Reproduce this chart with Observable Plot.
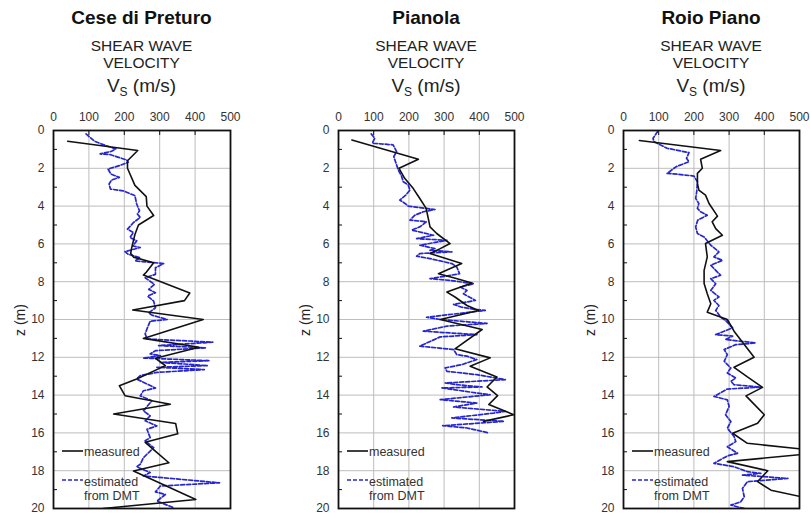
<!DOCTYPE html>
<html>
<head>
<meta charset="utf-8">
<script src="https://cdn.jsdelivr.net/npm/d3@7"></script>
<script src="https://cdn.jsdelivr.net/npm/@observablehq/plot@0.6"></script>
<style>
  html, body { margin:0; padding:0; background:#fff; }
  body { width:810px; height:513px; position:relative; overflow:hidden; font-family:"Liberation Sans", Arial, sans-serif; color:#111; }
  .abs { position:absolute; white-space:nowrap; transform:translate(-50%,-50%); }
  .title { font-weight:bold; font-size:19px; }
  .sub { font-size:15.5px; color:#222; }
  .vs { font-size:19px; color:#222; }
  .vs sub { font-size:12px; vertical-align:-4px; }
  .zl { font-size:14px; transform:translate(-50%,-50%) rotate(-90deg); color:#222; }
  .panel { position:absolute; top:95px; }
  .legend { position:absolute; }
</style>
</head>
<body>
<script>
// ---- data: [depth z (m), Vs (m/s)] ----
const panelNames = ["Cese di Preturo", "Pianola", "Roio Piano"];
const xTicks = [0, 100, 200, 300, 400, 500];
const yTicks = [0, 2, 4, 6, 8, 10, 12, 14, 16, 18, 20];
const yMinor = [1, 3, 5, 7, 9, 11, 13, 15, 17, 19];
const legendLabels = ["measured", "estimated", "from DMT"];

const ceseMeasured = [[0.57,40],[1.06,238],[1.6,209],[2.0,209],[2.9,230],[3.5,262],[4.0,264],[4.5,283],[5.0,240],[5.5,230],[6.2,221],[6.5,218],[6.7,226],[7.0,283],[7.5,262],[7.65,254],[8.6,385],[9.0,370],[9.5,224],[10.0,423],[11.0,254],[11.47,411],[12.05,288],[12.44,316],[13.15,235],[13.5,186],[14.03,202],[14.48,330],[15.0,170],[15.5,345],[16.05,351],[16.5,259],[17.0,290],[17.58,326],[18.02,226],[19.52,402],[20.0,140]];
const ceseDMT = [[0.18,92],[0.57,116],[0.8,148],[0.97,176],[1.1,164],[1.24,132],[1.27,159],[1.56,207],[1.68,211],[1.86,186],[2.04,154],[2.3,162],[2.48,186],[2.62,164],[2.83,157],[3.1,161],[3.19,197],[3.45,230],[3.89,235],[4.25,243],[4.42,237],[4.6,245],[4.87,226],[5.22,209],[5.4,226],[5.66,216],[5.84,235],[6.11,224],[6.19,245],[6.41,202],[6.55,211],[6.73,245],[6.9,230],[7.04,311],[7.26,288],[7.61,288],[7.79,259],[8.14,285],[8.41,269],[8.58,288],[8.76,266],[9.03,283],[9.38,288],[9.65,269],[9.77,278],[10.0,321],[10.09,273],[10.5,264],[10.76,259],[11.03,264],[11.2,450],[11.38,297],[11.5,430],[11.65,288],[11.82,273],[11.91,302],[12.04,254],[12.18,440],[12.27,302],[12.44,435],[12.53,292],[12.65,426],[12.8,292],[12.97,245],[13.15,235],[13.63,288],[13.77,254],[14.04,245],[14.3,278],[14.83,254],[15.1,273],[15.36,259],[15.63,292],[15.81,264],[16.25,273],[16.42,259],[16.78,283],[17.31,254],[17.66,245],[17.79,235],[18.1,273],[18.28,254],[18.64,469],[18.81,302],[19.12,288],[19.26,316],[19.61,292],[19.96,340]];

const pianolaMeasured = [[0.5,38],[1.52,227],[2.0,172],[2.53,188],[3.06,212],[3.6,231],[4.12,249],[4.65,255],[5.1,260],[5.45,279],[5.98,317],[6.25,289],[6.51,260],[7.04,350],[7.58,284],[7.79,327],[8.07,379],[8.55,308],[8.81,331],[9.26,365],[9.52,398],[10.0,289],[10.53,408],[11.55,331],[12.03,431],[12.47,374],[13.04,450],[13.57,422],[14.03,452],[14.5,427],[15.04,498],[15.39,412]];
const pianolaDMT = [[0.18,93],[0.41,103],[0.67,96],[0.76,155],[1.12,165],[1.38,157],[2.09,170],[2.41,179],[2.71,184],[2.88,198],[3.15,203],[3.42,191],[3.68,174],[3.86,189],[4.0,198],[4.18,274],[4.3,241],[4.48,217],[4.74,203],[4.83,250],[5.1,231],[5.27,208],[5.54,270],[5.72,222],[5.81,308],[6.07,231],[6.25,274],[6.34,260],[6.42,322],[6.51,231],[6.65,222],[6.78,260],[7.04,322],[7.22,336],[7.58,344],[7.84,260],[7.93,317],[8.11,384],[8.28,346],[8.46,365],[8.64,355],[8.99,389],[9.2,327],[9.35,350],[9.47,389],[9.52,417],[9.88,250],[10.0,289],[10.21,422],[10.35,308],[10.62,241],[10.8,393],[10.92,289],[11.41,231],[11.59,327],[11.86,336],[11.94,365],[12.12,393],[12.39,350],[12.56,303],[12.74,308],[12.92,393],[13.18,474],[13.36,303],[13.45,336],[13.57,408],[13.62,294],[13.89,393],[13.98,431],[14.24,289],[14.42,393],[14.63,327],[14.86,474],[14.95,441],[15.21,322],[15.39,470],[15.62,296],[15.74,365],[16.0,427]];

const roioMeasured = [[0.53,45],[1.06,276],[1.52,219],[2.0,224],[2.27,210],[2.8,210],[3.15,214],[3.42,233],[3.86,243],[4.53,267],[4.83,252],[5.19,262],[5.54,281],[5.98,233],[6.69,238],[7.4,229],[8.1,229],[8.64,238],[9.17,248],[9.61,238],[10.0,295],[10.62,314],[12.0,371],[12.53,314],[13.04,352],[13.59,395],[14.04,348],[15.04,400],[15.49,381],[16.02,310],[16.55,352],[16.9,530],[17.1,530],[17.52,295],[18.0,410],[18.58,381],[19.03,419],[19.38,505],[19.6,560]];
const roioDMT = [[0.05,97],[0.41,84],[0.58,86],[0.94,124],[1.17,186],[1.47,179],[1.65,186],[1.91,150],[2.27,124],[2.32,157],[2.41,200],[2.71,210],[3.24,208],[3.59,205],[3.86,214],[4.12,210],[4.3,219],[4.48,238],[4.74,211],[5.1,205],[5.45,210],[5.63,229],[6.07,248],[6.42,271],[6.69,257],[6.87,281],[7.13,248],[7.4,262],[7.66,276],[7.84,248],[8.11,262],[8.46,248],[8.81,271],[8.99,257],[9.26,271],[9.52,262],[9.88,276],[10.05,290],[10.44,310],[10.8,262],[10.88,310],[11.06,290],[11.24,376],[11.33,319],[11.59,286],[11.86,295],[12.21,286],[12.57,305],[12.83,295],[13.1,319],[13.27,305],[13.45,314],[13.58,390],[13.68,295],[14.07,257],[14.25,295],[14.6,300],[15.04,290],[15.4,305],[15.75,295],[16.19,314],[16.46,319],[16.73,295],[17.08,324],[17.22,295],[17.61,257],[17.79,314],[18.05,352],[18.14,390],[18.23,338],[18.41,467],[18.58,352],[18.94,338],[19.38,343],[19.65,333],[19.82,305],[20.0,343]];

// ---- layout ----
const measuredSeries = [ceseMeasured, pianolaMeasured, roioMeasured];
const dmtSeries = [ceseDMT, pianolaDMT, roioDMT];
const panelLeft = [0, 270, 540];
const mLeft = [53, 68, 83];
const mRight = [40, 26, 11];
const W = 270, H = 418, MT = 35, MB = 5;
const toObj = a => a.map(([z, vs]) => ({z, vs}));
const BLUE = "#2626d0";

panelNames.forEach((name, i) => {
  const frameL = panelLeft[i] + mLeft[i];
  const frameR = panelLeft[i] + W - mRight[i];
  const cx = (frameL + frameR) / 2;

  const addText = (cls, html, x, y) => {
    const d = document.createElement("div");
    d.className = "abs " + cls;
    d.style.left = x + "px"; d.style.top = y + "px";
    d.innerHTML = html;
    document.body.appendChild(d);
  };
  addText("title", name, cx, 18);
  addText("sub", "SHEAR WAVE", cx, 46);
  addText("sub", "VELOCITY", cx, 63);
  addText("vs", "V<sub>S</sub> (m/s)", cx, 87);
  addText("zl", "z (m)", frameL - 33, 320);

  const chart = Plot.plot({
    width: W, height: H,
    marginTop: MT, marginBottom: MB, marginLeft: mLeft[i], marginRight: mRight[i],
    style: {fontFamily: "'Liberation Sans', Arial, sans-serif", fontSize: "12px", color: "#333", background: "transparent", overflow: "visible"},
    x: {domain: [0, 500]},
    y: {domain: [0, 20], reverse: true},
    marks: [
      Plot.gridX(xTicks, {stroke: "#bdbdbd", strokeOpacity: 1}),
      Plot.gridY(yTicks, {stroke: "#bdbdbd", strokeOpacity: 1}),
      Plot.axisX(xTicks, {anchor: "top", tickSize: 0, tickPadding: 10, label: null}),
      Plot.axisX(xTicks.slice(1, -1), {anchor: "top", tickSize: 4, dy: 4, tickFormat: () => "", label: null, stroke: "#111"}),
      Plot.axisY(yTicks, {anchor: "left", tickSize: 0, tickPadding: 9, label: null}),
      Plot.axisY(yMinor, {anchor: "left", tickSize: 4, dx: 4, tickFormat: () => "", label: null, stroke: "#111"}),
      Plot.line(toObj(dmtSeries[i]), {x: "vs", y: "z", stroke: BLUE, strokeWidth: 1.7, strokeDasharray: "4,2", clip: true}),
      Plot.line(toObj(measuredSeries[i]), {x: "vs", y: "z", stroke: "#111", strokeWidth: 1.6, clip: true}),
      Plot.frame({stroke: "#111", strokeWidth: 1.8})
    ]
  });
  const wrap = document.createElement("div");
  wrap.className = "panel";
  wrap.style.left = panelLeft[i] + "px";
  wrap.appendChild(chart);
  document.body.appendChild(wrap);

  // legend
  const lg = d3.select(document.body).append("svg")
    .attr("class", "legend")
    .style("left", (frameL + 8) + "px").style("top", "439px")
    .attr("width", 90).attr("height", 66)
    .style("font-family", "'Liberation Sans', Arial, sans-serif").style("font-size", "12.5px");
  lg.append("line").attr("x1", 1).attr("x2", 22).attr("y1", 12).attr("y2", 12)
    .attr("stroke", "#111").attr("stroke-width", 1.6);
  lg.append("text").attr("x", 23).attr("y", 16.5).attr("fill", "#333").text(legendLabels[0]);
  lg.append("line").attr("x1", 1).attr("x2", 22).attr("y1", 41).attr("y2", 41)
    .attr("stroke", BLUE).attr("stroke-width", 1.7).attr("stroke-dasharray", "4,2");
  lg.append("text").attr("x", 23).attr("y", 46.5).attr("fill", "#333").text(legendLabels[1]);
  lg.append("text").attr("x", 23).attr("y", 60.5).attr("fill", "#333").text(legendLabels[2]);
});
</script>
</body>
</html>
